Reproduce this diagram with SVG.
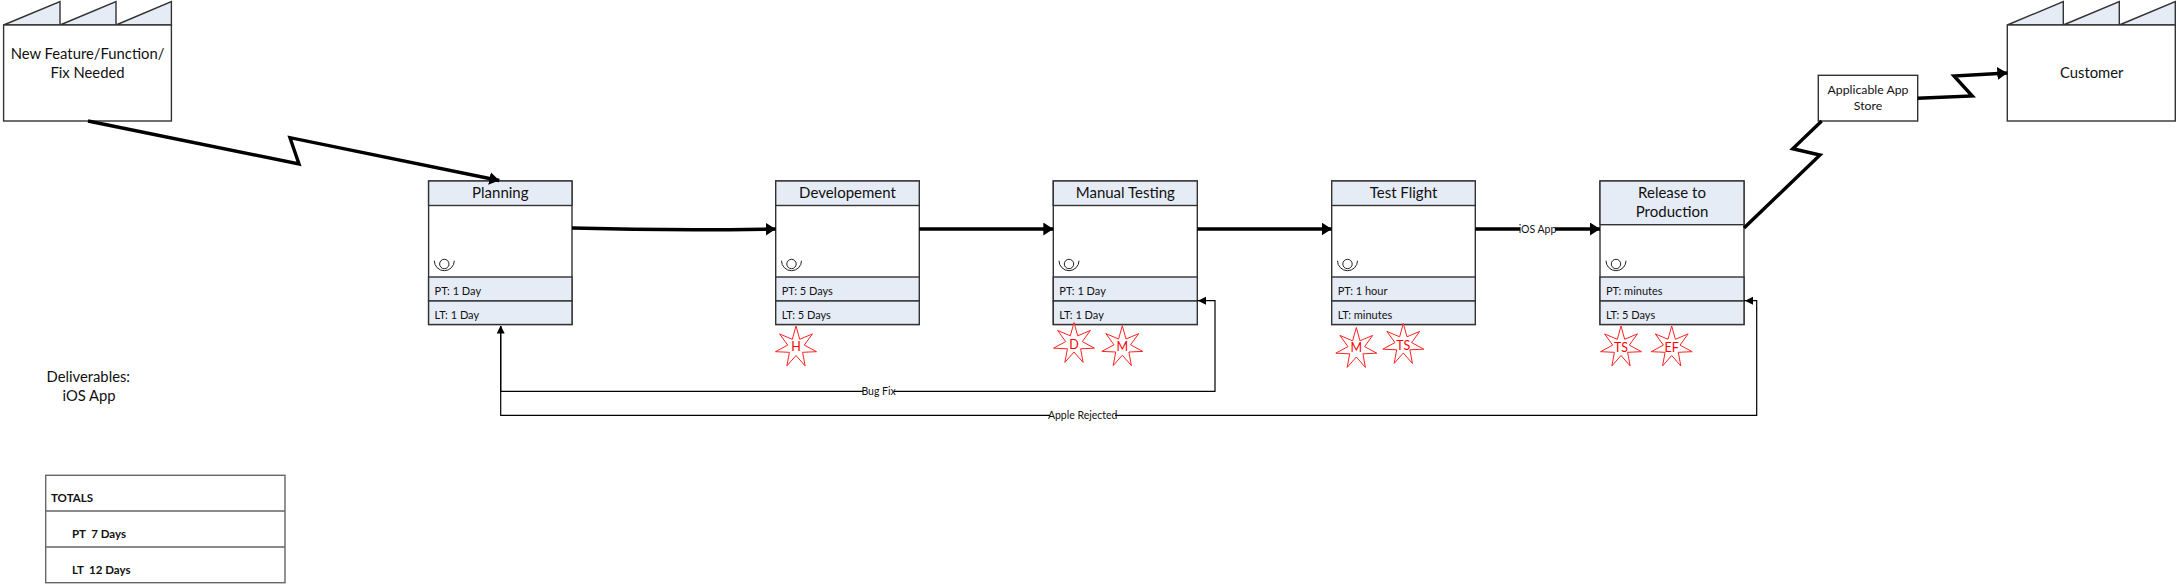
<svg xmlns="http://www.w3.org/2000/svg" width="2179" height="585" viewBox="0 0 2179 585">
<style>
text{font-family:Lato,"Liberation Sans",sans-serif;fill:#111}
.f{fill:#e6ecf6}.w{fill:#fff}.b{stroke:#333;stroke-width:1.4}
.t{font-size:15px;text-anchor:middle}
.s{font-size:11px}
.l{font-size:10.5px;text-anchor:middle}
.n{font-size:14.8px;text-anchor:middle}
.tot{font-size:11.5px;font-weight:700}
.star{fill:#fff;stroke:#f22;stroke-width:1}
.sl{font-size:12.5px;text-anchor:middle;fill:#f00}
.thick{fill:none;stroke:#000;stroke-width:3.4}
.thin{fill:none;stroke:#000;stroke-width:1.2}
.eye{fill:none;stroke:#222;stroke-width:1}
</style>
<defs>
<polygon id="st" class="star" points="0,-21 3.7,-7.7 16.42,-13.09 8.3,-1.9 20.47,4.68 6.6,5.3 9.11,18.92 0,8.5 -9.11,18.92 -6.6,5.3 -20.47,4.68 -8.3,-1.9 -16.42,-13.09 -3.7,-7.7"/>
<marker id="hb" markerUnits="userSpaceOnUse" markerWidth="11" markerHeight="13" refX="10" refY="6.5" orient="auto"><path d="M0,0L10,6.5L0,13Z" fill="#000"/></marker>
<g id="eye"><circle cx="0" cy="0" r="4.7" class="eye"/><path class="eye" d="M-10,-3.3A10,10 0 0 0 10,-3.3"/></g>
</defs>

<g id="source">
<path class="f b" d="M3.6,25L60,1.5V25ZM60,25L116,1.5V25ZM116,25L171.4,1.5V25Z"/>
<rect class="w b" x="3.6" y="25" width="167.8" height="96"/>
<text class="n" x="87.5" y="58.5">New Feature/Function/</text>
<text class="n" x="87.5" y="77.7">Fix Needed</text>
</g>

<g id="customer">
<path class="f b" d="M2007.3,25L2063.3,1.5V25ZM2063.3,25L2119.3,1.5V25ZM2119.3,25L2175.3,1.5V25Z"/>
<rect class="w b" x="2007.3" y="25" width="168" height="96"/>
<text class="n" x="2091.7" y="78">Customer</text>
</g>

<g id="app-store">
<rect class="w b" x="1818.3" y="75.3" width="99.4" height="45.7"/>
<text class="n" x="1868" y="94" style="font-size:12.3px">Applicable App</text>
<text class="n" x="1868" y="110" style="font-size:12.3px">Store</text>
</g>

<g id="planning">
<rect class="w b" x="428.6" y="181" width="143.4" height="143.5"/>
<rect class="f b" x="428.6" y="181" width="143.4" height="24.5"/>
<rect class="f b" x="428.6" y="277" width="143.4" height="24"/>
<rect class="f b" x="428.6" y="301" width="143.4" height="23.5"/>
<text class="t" x="500.3" y="198">Planning</text>
<use href="#eye" x="444.3" y="264"/>
<text class="s" x="434.6" y="295">PT: 1 Day</text>
<text class="s" x="434.6" y="319">LT: 1 Day</text>
</g>

<g id="development">
<rect class="w b" x="775.7" y="181" width="143.6" height="143.5"/>
<rect class="f b" x="775.7" y="181" width="143.6" height="24.5"/>
<rect class="f b" x="775.7" y="277" width="143.6" height="24"/>
<rect class="f b" x="775.7" y="301" width="143.6" height="23.5"/>
<text class="t" x="847.5" y="198">Developement</text>
<use href="#eye" x="791.5" y="264"/>
<text class="s" x="781.7" y="295">PT: 5 Days</text>
<text class="s" x="781.7" y="319">LT: 5 Days</text>
<use href="#st" x="796" y="347"/><text class="sl" x="796" y="351">H</text>
</g>

<g id="manual-testing">
<rect class="w b" x="1053.3" y="181" width="144" height="143.5"/>
<rect class="f b" x="1053.3" y="181" width="144" height="24.5"/>
<rect class="f b" x="1053.3" y="277" width="144" height="24"/>
<rect class="f b" x="1053.3" y="301" width="144" height="23.5"/>
<text class="t" x="1125.3" y="198">Manual Testing</text>
<use href="#eye" x="1069" y="264"/>
<text class="s" x="1059.3" y="295">PT: 1 Day</text>
<text class="s" x="1059.3" y="319">LT: 1 Day</text>
<use href="#st" x="1074" y="343.5"/><text class="sl" x="1074" y="349">D</text>
<use href="#st" x="1122.3" y="346.7"/><text class="sl" x="1122.3" y="351">M</text>
</g>

<g id="test-flight">
<rect class="w b" x="1331.7" y="181" width="143.6" height="143.5"/>
<rect class="f b" x="1331.7" y="181" width="143.6" height="24.5"/>
<rect class="f b" x="1331.7" y="277" width="143.6" height="24"/>
<rect class="f b" x="1331.7" y="301" width="143.6" height="23.5"/>
<text class="t" x="1403.5" y="198">Test Flight</text>
<use href="#eye" x="1347.5" y="264"/>
<text class="s" x="1337.7" y="295">PT: 1 hour</text>
<text class="s" x="1337.7" y="319">LT: minutes</text>
<use href="#st" x="1356.3" y="348.5"/><text class="sl" x="1356.3" y="352">M</text>
<use href="#st" x="1403.3" y="344.5"/><text class="sl" x="1403.3" y="350">TS</text>
</g>

<g id="release">
<rect class="w b" x="1600" y="181" width="144" height="143.5"/>
<rect class="f b" x="1600" y="181" width="144" height="43.7"/>
<rect class="f b" x="1600" y="277" width="144" height="24"/>
<rect class="f b" x="1600" y="301" width="144" height="23.5"/>
<text class="t" x="1672" y="198">Release to</text>
<text class="t" x="1672" y="217">Production</text>
<use href="#eye" x="1616" y="264"/>
<text class="s" x="1606" y="295">PT: minutes</text>
<text class="s" x="1606" y="319">LT: 5 Days</text>
<use href="#st" x="1621" y="347"/><text class="sl" x="1621" y="352">TS</text>
<use href="#st" x="1671.7" y="347"/><text class="sl" x="1671.7" y="352">EF</text>
</g>

<g id="deliverables">
<text x="46.5" y="382" style="font-size:14.8px">Deliverables:</text>
<text x="62.5" y="401" style="font-size:14.8px">iOS App</text>
</g>

<g id="totals">
<rect class="w" x="45.7" y="475.3" width="239.3" height="107.4" stroke="#666" stroke-width="1.4"/>
<path d="M45.7,511H285M45.7,547H285" stroke="#666" stroke-width="1.4"/>
<text class="tot" x="51" y="502">TOTALS</text>
<text class="tot" x="72" y="538" xml:space="preserve">PT  7 Days</text>
<text class="tot" x="72" y="574" xml:space="preserve">LT  12 Days</text>
</g>

<g id="connectors">
<path class="thick" marker-end="url(#hb)" d="M88,121L299,164L290,137.7L499.3,180.5"/>
<path class="thick" marker-end="url(#hb)" d="M572,228Q675,231 775.7,229"/>
<path class="thick" marker-end="url(#hb)" d="M919.3,229H1053.3"/>
<path class="thick" marker-end="url(#hb)" d="M1197.3,229H1331.7"/>
<path class="thick" marker-end="url(#hb)" d="M1475.3,229H1600"/>
<path class="thick" d="M1744,228L1820,155L1792.7,148.7L1821.7,121"/>
<path class="thick" marker-end="url(#hb)" d="M1917.7,98.3L1972.3,96L1954,76L2007.3,73"/>
<path class="thin" d="M1197.3,300.7H1215V391.3H500.7V326"/>
<path class="thin" d="M1744,300.7H1756.7V415.3H500.7V326"/>
<path d="M1206,296.7L1198,300.7L1206,304.7ZM1753,296.7L1745,300.7L1753,304.7ZM496.7,333.5L500.7,325.5L504.7,333.5Z" fill="#000"/>
<rect class="w" x="1520" y="222" width="35" height="14"/>
<text class="l" x="1537.5" y="233">iOS App</text>
<rect class="w" x="863" y="385" width="31" height="13"/>
<text class="l" x="878.6" y="395">Bug Fix</text>
<rect class="w" x="1050" y="409" width="65" height="13"/>
<text class="l" x="1082.7" y="419">Apple Rejected</text>
</g>
</svg>
